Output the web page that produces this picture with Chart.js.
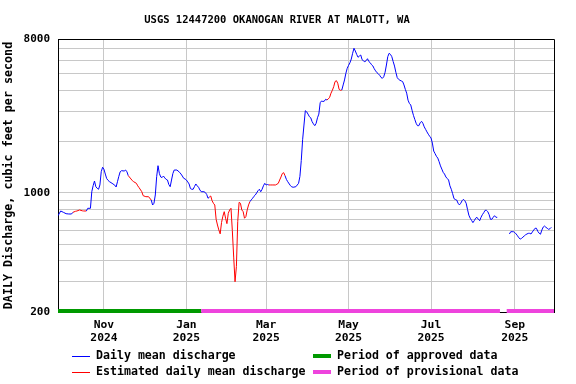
<!DOCTYPE html>
<html>
<head>
<meta charset="utf-8">
<script src="https://cdn.jsdelivr.net/npm/chart.js@4.4.1/dist/chart.umd.min.js"></script>
<style>
    body { margin: 0; background: #fff; }
    canvas { display: block; }
</style>
</head>
<body>
<canvas id="canvas" width="576" height="384"></canvas>
<script>
// day 0 = 2024-09-28, one step per day
const days = [
    0, 2, 4, 6, 8, 10, 11, 13, 14, 16, 18, 19, 21, 22, 24, 25, 26, 27, 28, 29,
    30, 31, 32, 33, 34, 35, 36, 37, 38, 40, 42, 43, 44, 45, 46, 47, 49, 50, 51, 52,
    54, 55, 56, 58, 59, 60, 62, 63, 65, 67, 69, 70, 71, 72, 73, 74, 75, 76, 77, 78,
    79, 80, 81, 82, 83, 84, 85, 86, 88, 90, 91, 92, 93, 94, 95, 96, 97, 98, 99, 100,
    101, 102, 103, 104, 105, 106, 108, 109, 110, 111, 112, 113, 114, 115, 116, 117, 118, 119, 120, 121,
    122, 123, 124, 125, 126, 127, 128, 129, 130, 131, 132, 133, 134, 135, 136, 137, 138, 139, 140, 141,
    142, 143, 144, 145, 146, 147, 148, 149, 150, 151, 152, 153, 154, 155, 156, 157, 159, 161, 162, 163,
    164, 165, 166, 167, 168, 169, 170, 172, 173, 174, 176, 178, 179, 180, 181, 182, 183, 184, 185, 186,
    187, 188, 189, 190, 191, 192, 193, 194, 195, 196, 197, 198, 199, 200, 201, 202, 203, 204, 205, 206,
    207, 208, 209, 210, 211, 212, 213, 214, 215, 216, 217, 218, 219, 220, 221, 222, 223, 224, 225, 226,
    227, 228, 229, 230, 231, 232, 233, 234, 235, 236, 237, 238, 239, 240, 241, 242, 243, 244, 245, 246,
    247, 248, 249, 250, 251, 252, 253, 254, 255, 256, 257, 258, 259, 260, 261, 262, 263, 264, 265, 266,
    267, 268, 269, 270, 271, 272, 273, 274, 275, 276, 277, 278, 279, 280, 281, 282, 283, 284, 285, 286,
    287, 288, 289, 290, 291, 292, 293, 294, 295, 296, 297, 298, 299, 300, 301, 302, 303, 304, 305, 306,
    307, 308, 309, 310, 311, 312, 313, 314, 315, 316, 317, 318, 319, 320, 321, 322, 323, 324, 325,
    329,
    334, 335, 336, 337, 338, 339, 340, 341, 342, 343, 344, 345, 346, 347, 348, 349, 350, 351, 352, 353,
    354, 355, 356, 357, 358, 359, 360, 361, 362, 363, 364, 365
];
const flow = [
    735, 783, 769, 755, 752, 752, 769, 780, 783, 794, 785, 783, 783, 812, 812, 1016, 1102, 1174, 1087, 1064,
    1050, 1113, 1332, 1414, 1376, 1290, 1215, 1185, 1165, 1138, 1110, 1083, 1163, 1250, 1330, 1350, 1344, 1362, 1330, 1262,
    1207, 1180, 1163, 1138, 1100, 1073, 1016, 963, 950, 950, 908, 849, 869, 972, 1245, 1444, 1300, 1240, 1230, 1256,
    1225, 1200, 1190, 1120, 1087, 1190, 1300, 1362, 1362, 1320, 1290, 1256, 1218, 1207, 1190, 1160, 1128, 1060, 1050, 1050,
    1090, 1128, 1100, 1079, 1040, 1016, 1016, 1005, 980, 930, 945, 959, 900, 869, 849, 700, 648, 606, 575, 670,
    730, 776, 710, 660, 759, 794, 812, 600, 420, 301, 370, 680, 880, 869, 794, 776, 710, 725, 794, 850,
    888, 910, 930, 955, 972, 1000, 1030, 1050, 1016, 1050, 1100, 1138, 1113, 1120, 1113, 1113, 1113, 1113, 1125, 1138,
    1190, 1240, 1300, 1314, 1260, 1200, 1163, 1102, 1085, 1079, 1087, 1138, 1250, 1550, 2050, 2502, 3036, 2990, 2900, 2800,
    2760, 2620, 2540, 2480, 2560, 2760, 2900, 3383, 3462, 3440, 3450, 3542, 3509, 3560, 3640, 3850, 4000, 4200, 4500, 4556,
    4398, 4050, 4000, 4016, 4300, 4600, 5032, 5386, 5600, 5800, 6100, 6596, 7056, 6800, 6500, 6250, 6356, 6444, 6050, 5960,
    5886, 5968, 6130, 5900, 5808, 5650, 5556, 5350, 5200, 5074, 5000, 4900, 4760, 4704, 4800, 5100, 5630, 6300, 6596, 6500,
    6300, 5900, 5550, 5100, 4750, 4640, 4580, 4540, 4500, 4300, 4050, 3850, 3500, 3350, 3280, 3050, 2850, 2700, 2560, 2480,
    2480, 2580, 2630, 2560, 2440, 2360, 2280, 2210, 2150, 2100, 1960, 1760, 1700, 1640, 1600, 1524, 1440, 1380, 1320, 1290,
    1240, 1215, 1190, 1100, 1050, 990, 925, 915, 908, 870, 850, 869, 900, 917, 900, 870, 800, 740, 710, 690,
    669, 687, 710, 719, 700, 687, 719, 745, 765, 790, 790, 776, 745, 700, 700, 719, 735, 719, 719,
    null,
    574, 592, 592, 592, 585, 574, 560, 545, 536, 541, 550, 559, 568, 574, 579, 579, 574, 590, 605, 620,
    620, 595, 580, 572, 605, 630, 639, 628, 620, 611, 616, 628
];
const estimatedRanges = [[11, 21], [52, 69], [112, 142], [156, 168], [199, 210]];
const approvedPeriods = [[0, 106]];
const provisionalPeriods = [[106, 327], [332, 367]];

const tickDays = [34, 95, 154, 215, 276, 338];
const tickLabels = [['Nov', '2024'], ['Jan', '2025'], ['Mar', '2025'], ['May', '2025'], ['Jul', '2025'], ['Sep', '2025']];
const yGridValues = [200, 300, 400, 500, 600, 700, 800, 900, 1000, 2000, 3000, 4000, 5000, 6000, 7000, 8000];
const yLabelValues = [200, 1000, 8000];

const FONT = '"DejaVu Sans Mono", monospace';
const BLUE = '#0000ff';
const RED = '#ff0000';
const GREEN = '#009900';
const PINK = '#ee44dd';

const points = days.map((d, i) => ({ x: d, y: flow[i] }));

function isEstimated(a, b) {
    return estimatedRanges.some(([s, e]) => a >= s && b <= e);
}

const decor = {
    id: 'decor',
    afterDatasetsDraw(chart) {
        const { ctx, chartArea: a, scales: { x } } = chart;
        ctx.save();
        const bar = (periods, color) => {
            ctx.fillStyle = color;
            periods.forEach(([s, e]) => {
                const x0 = x.getPixelForValue(s);
                const x1 = x.getPixelForValue(e);
                ctx.fillRect(x0, a.bottom - 3, x1 - x0, 4);
            });
        };
        bar(approvedPeriods, GREEN);
        bar(provisionalPeriods, PINK);

        // frame top and right
        ctx.strokeStyle = '#000';
        ctx.lineWidth = 1;
        ctx.beginPath();
        ctx.moveTo(a.left, a.top + 0.5);
        ctx.lineTo(a.right + 0.5, a.top + 0.5);
        ctx.lineTo(a.right + 0.5, a.bottom);
        ctx.stroke();
        ctx.restore();
    },
    afterDraw(chart) {
        const ctx = chart.ctx;
        ctx.save();
        ctx.fillStyle = '#000';
        ctx.textBaseline = 'middle';
        ctx.textAlign = 'center';
        ctx.font = 'bold 10.5px ' + FONT;
        ctx.fillText('USGS 12447200 OKANOGAN RIVER AT MALOTT, WA', 277, 20);

        ctx.textAlign = 'left';
        ctx.font = 'bold 11.6px ' + FONT;
        ctx.lineWidth = 1;
        ctx.strokeStyle = BLUE;
        ctx.beginPath(); ctx.moveTo(72, 356.5); ctx.lineTo(90, 356.5); ctx.stroke();
        ctx.strokeStyle = RED;
        ctx.beginPath(); ctx.moveTo(72, 372.5); ctx.lineTo(90, 372.5); ctx.stroke();
        ctx.fillText('Daily mean discharge', 96, 356);
        ctx.fillText('Estimated daily mean discharge', 96, 372);

        ctx.fillStyle = GREEN;
        ctx.fillRect(313, 354, 18, 4);
        ctx.fillStyle = PINK;
        ctx.fillRect(313, 370, 18, 4);
        ctx.fillStyle = '#000';
        ctx.fillText('Period of approved data', 337, 356);
        ctx.fillText('Period of provisional data', 337, 372);
        ctx.restore();
    }
};

function drawChart() {
    const ctx = document.getElementById('canvas').getContext('2d');
    new Chart(ctx, {
        type: 'line',
        data: {
            datasets: [
                {
                    label: 'Daily mean discharge',
                    data: points,
                    borderColor: BLUE,
                    borderWidth: 1,
                    pointRadius: 0,
                    segment: {
                        borderColor: (c) => (isEstimated(c.p0.parsed.x, c.p1.parsed.x) ? RED : BLUE)
                    }
                }
            ]
        },
        options: {
            responsive: false,
            animation: false,
            devicePixelRatio: 1,
            spanGaps: false,
            layout: { padding: { top: 39, right: 22, left: 0, bottom: 0 } },
            plugins: {
                legend: { display: false },
                tooltip: { enabled: false }
            },
            scales: {
                x: {
                    type: 'linear',
                    min: 0,
                    max: 367,
                    afterBuildTicks: (scale) => { scale.ticks = tickDays.map(v => ({ value: v })); },
                    afterFit: (scale) => { scale.height = 72; },
                    ticks: {
                        autoSkip: false,
                        maxRotation: 0,
                        padding: 7,
                        color: '#000',
                        font: { family: FONT, size: 11.3, weight: 'bold', lineHeight: 1.15 },
                        callback: (v, i) => tickLabels[i]
                    },
                    grid: { color: '#c8c8c8', lineWidth: 1, drawTicks: false },
                    border: { color: '#000', width: 1 }
                },
                y: {
                    type: 'logarithmic',
                    min: 200,
                    max: 8000,
                    afterBuildTicks: (scale) => { scale.ticks = yGridValues.map(v => ({ value: v })); },
                    afterFit: (scale) => { scale.width = 58; },
                    ticks: {
                        autoSkip: false,
                        padding: 8,
                        color: '#000',
                        font: { family: FONT, size: 11, weight: 'bold' },
                        callback: (v) => (yLabelValues.includes(v) ? String(v) : '')
                    },
                    grid: { color: '#c8c8c8', lineWidth: 1, drawTicks: false },
                    border: { color: '#000', width: 1 },
                    title: {
                        display: true,
                        text: 'DAILY Discharge, cubic feet per second',
                        color: '#000',
                        padding: { top: 2, bottom: 0 },
                        font: { family: FONT, size: 11.7, weight: 'bold' }
                    }
                }
            }
        },
        plugins: [decor]
    });
}

drawChart();
</script>
</body>
</html>
